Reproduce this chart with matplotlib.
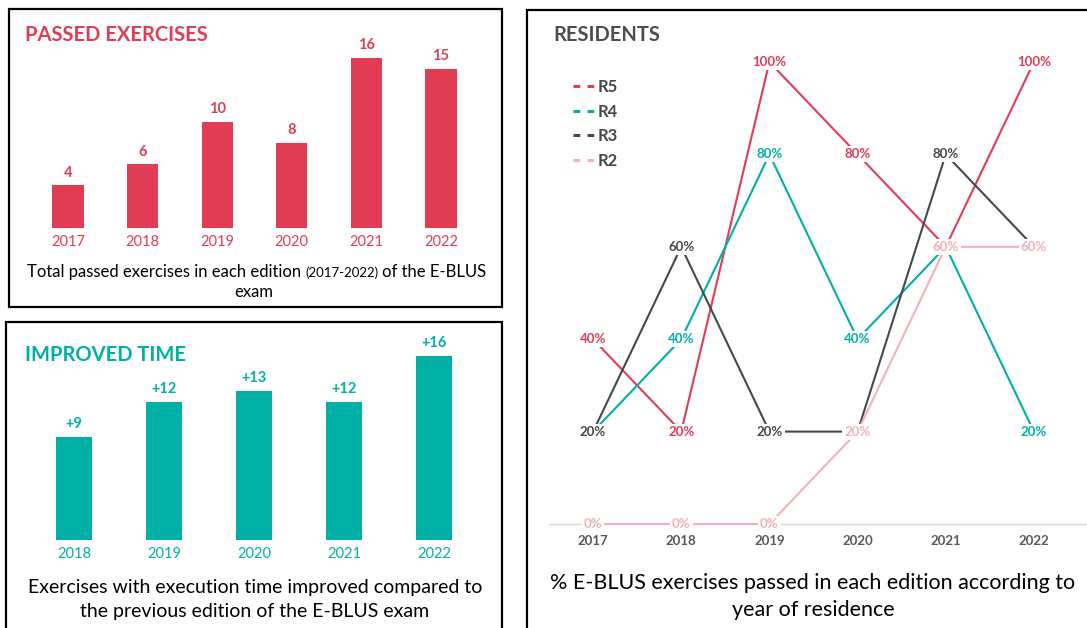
import matplotlib.pyplot as plt
from matplotlib.patches import Rectangle
from matplotlib.lines import Line2D

plt.rcParams['font.family'] = ['Lato', 'DejaVu Sans']

# data
passed_years = ["2017", "2018", "2019", "2020", "2021", "2022"]
passed = [4, 6, 10, 8, 16, 15]

improved_years = ["2018", "2019", "2020", "2021", "2022"]
improved = [9, 12, 13, 12, 16]

res_years = ["2017", "2018", "2019", "2020", "2021", "2022"]
r5 = [40, 20, 100, 80, 60, 100]
r4 = [20, 40, 80, 40, 60, 20]
r3 = [20, 60, 20, 20, 80, 60]
r2 = [0, 0, 0, 20, 60, 60]

RED = '#E03D55'
TEAL = '#00B0A4'
DARK = '#44494D'
PINK = '#F3B1B9'

W, H = 1087, 628
fig = plt.figure(figsize=(W / 100, H / 100), dpi=100)


def px_axes(left, top, right, bottom):
    return fig.add_axes([left / W, 1 - bottom / H, (right - left) / W, (bottom - top) / H])


def px_box(left, top, right, bottom):
    fig.patches.append(Rectangle((left / W, 1 - bottom / H), (right - left) / W, (bottom - top) / H,
                                 transform=fig.transFigure, fill=False, lw=1.6, ec='black'))


def clean(ax):
    for s in ax.spines.values():
        s.set_visible(False)
    ax.set_yticks([])
    ax.tick_params(axis='x', length=0)


# panel borders
px_box(9, 9, 502, 307)
px_box(6, 322, 502, 640)
px_box(527, 10, 1100, 640)

# ---- passed exercises
ax1 = px_axes(30.7, 36.75, 478.3, 228)
ax1.bar(range(len(passed)), passed, width=0.42, color=RED)
for i, v in enumerate(passed):
    ax1.annotate(str(v), (i, v), xytext=(0, 4), textcoords='offset points',
                 ha='center', va='bottom', color=RED, fontsize=10.5, fontweight='bold')
ax1.set_xlim(-0.5, len(passed) - 0.5)
ax1.set_ylim(0, 18)
ax1.set_xticks(range(len(passed)))
ax1.set_xticklabels(passed_years, color=RED, fontsize=10.5)
ax1.tick_params(axis='x', pad=5)
clean(ax1)
fig.text(25 / W, 1 - 35 / H, "PASSED EXERCISES", color=RED, fontsize=14.5, fontweight='bold', va='center')
fig.text(301 / W, 1 - 272 / H, "Total passed exercises in each edition", ha='right', va='center', fontsize=12)
fig.text(342 / W, 1 - 273 / H, "(2017-2022)", ha='center', va='center', fontsize=9.5)
fig.text(382 / W, 1 - 272 / H, "of the E-BLUS", ha='left', va='center', fontsize=12)
fig.text(254 / W, 1 - 292 / H, "exam", ha='center', va='center', fontsize=12)

# ---- improved time
ax2 = px_axes(29, 333, 479, 540)
ax2.bar(range(len(improved)), improved, width=0.41, color=TEAL)
for i, v in enumerate(improved):
    ax2.annotate("+" + str(v), (i, v), xytext=(0, 4), textcoords='offset points',
                 ha='center', va='bottom', color=TEAL, fontsize=10.5, fontweight='bold')
ax2.set_xlim(-0.5, len(improved) - 0.5)
ax2.set_ylim(0, 18)
ax2.set_xticks(range(len(improved)))
ax2.set_xticklabels(improved_years, color=TEAL, fontsize=10.5)
ax2.tick_params(axis='x', pad=5)
clean(ax2)
fig.text(25 / W, 1 - 355 / H, "IMPROVED TIME", color=TEAL, fontsize=14.5, fontweight='bold', va='center')
fig.text(255 / W, 1 - 588 / H, "Exercises with execution time improved compared to",
         ha='center', va='center', fontsize=14)
fig.text(255 / W, 1 - 612 / H, "the previous edition of the E-BLUS exam",
         ha='center', va='center', fontsize=14)

# ---- residents
ax3 = px_axes(549, 62, 1078, 524)
series = [("R5", r5, RED), ("R4", r4, TEAL), ("R3", r3, DARK), ("R2", r2, PINK)]
x = range(len(res_years))
ax3.axhline(0, color='#D9D9D9', lw=1, zorder=0, xmin=0, xmax=1.02, clip_on=False)
for name, vals, c in series:
    ax3.plot(x, vals, color=c, lw=1.5, clip_on=False, zorder=2)
z = 3
for name, vals, c in series:
    for i, v in enumerate(vals):
        ax3.text(i, v, f"{v}%", ha='center', va='center', color=c, fontsize=9.5, fontweight='bold',
                 zorder=z, bbox=dict(boxstyle='square,pad=0.15', fc='white', ec='none'))
        z += 0.01
ax3.set_xlim(-0.5, len(res_years) - 0.5)
ax3.set_ylim(0, 100)
ax3.set_xticks(list(x))
ax3.set_xticklabels(res_years, color='#595959', fontsize=9.5, fontweight='bold')
ax3.tick_params(axis='x', pad=8)
clean(ax3)

handles = [Line2D([], [], color=c, lw=2.2, linestyle=(0, (2.2, 2.4))) for _, _, c in series]
fig.legend(handles, [s[0] for s in series], loc='upper left', bbox_to_anchor=(573 / W, 1 - 79 / H),
           frameon=False, handlelength=1.5, handletextpad=0.0, labelspacing=0.52,
           prop={'weight': 'bold', 'size': 12}, labelcolor=DARK, borderaxespad=0, borderpad=0)

fig.text(553 / W, 1 - 35 / H, "RESIDENTS", color='#4A4F54', fontsize=14.5, fontweight='bold', va='center')
fig.text(813 / W, 1 - 583 / H, "% E-BLUS exercises passed in each edition according to",
         ha='center', va='center', fontsize=15.5)
fig.text(813 / W, 1 - 610 / H, "year of residence", ha='center', va='center', fontsize=15.5)

fig.savefig("out.png", dpi=100)
